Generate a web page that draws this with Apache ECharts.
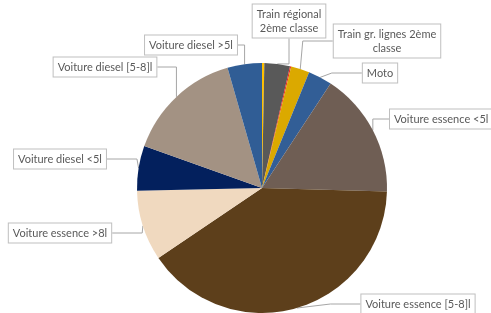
<!DOCTYPE html>
<html>
<head>
<meta charset="utf-8">
<style>
  html, body { margin: 0; padding: 0; background: #fff; }
  #chart { width: 491px; height: 313px; }
</style>
<script src="https://cdn.jsdelivr.net/npm/echarts@6/dist/echarts.min.js"></script>
</head>
<body>
<div id="chart"></div>
<script>
// parts in %, clockwise from 12 o'clock
const categories = [
  'Train régional 1ère classe',
  'Train régional 2ème classe',
  'Train gr. lignes 1ère classe',
  'Train gr. lignes 2ème classe',
  'Moto',
  'Voiture essence <5l',
  'Voiture essence [5-8]l',
  'Voiture essence >8l',
  'Voiture diesel <5l',
  'Voiture diesel [5-8]l',
  'Voiture diesel >5l'
]
const values = [0.3, 3.3, 0.15, 2.4, 3.1, 16.2, 40.1, 9.1, 5.8, 15.1, 4.45]
const shownLabels = [false, true, false, true, true, true, true, true, true, true, true]
const displayNames = ['', 'Train régional\n2ème classe', '', 'Train gr. lignes 2ème\nclasse', 'Moto',
  'Voiture essence <5l', 'Voiture essence [5-8]l', 'Voiture essence >8l',
  'Voiture diesel <5l', 'Voiture diesel [5-8]l', 'Voiture diesel >5l']

const colors = ['#FFC000', '#595959', '#E8231A', '#DBA900', '#325E96', '#6F5E54',
  '#5D3F1B', '#F0D9BF', '#03205D', '#A39283', '#305D95']
// label box positions (centre), by slice index
const labelPos = [null, [289, 21], null, [387, 41], [380, 73], [390, 119, 'left'], [418, 304],
  [60, 233], [60, 159], [105, 67], [191, 45]]

const chart = echarts.init(document.getElementById('chart'))
chart.setOption({
  backgroundColor: '#fff',
  animation: false,
  series: [{
    type: 'pie',
    center: [262, 188],
    radius: 125,
    startAngle: 90,
    clockwise: true,
    avoidLabelOverlap: false,
    itemStyle: { borderWidth: 0 },
    label: {
      fontFamily: 'Lato', fontSize: 11, color: '#595959', lineHeight: 14,
      backgroundColor: '#fff', borderColor: '#BFBFBF', borderWidth: 1,
      padding: [3, 4, 2, 4], align: 'center',
      formatter: (p) => displayNames[p.dataIndex]
    },
    labelLine: { show: true, lineStyle: { color: '#A6A6A6', width: 1 } },
    labelLayout: (p) => {
      const pos = labelPos[p.dataIndex]
      if (!pos) return {}
      return { x: pos[0], y: pos[1], align: pos[2] || 'center', verticalAlign: 'middle' }
    },
    data: categories.map((name, i) => ({
      name, value: values[i],
      itemStyle: { color: colors[i] },
      label: { show: shownLabels[i] },
      labelLine: { show: shownLabels[i] }
    }))
  }]
})
</script>
</body>
</html>
